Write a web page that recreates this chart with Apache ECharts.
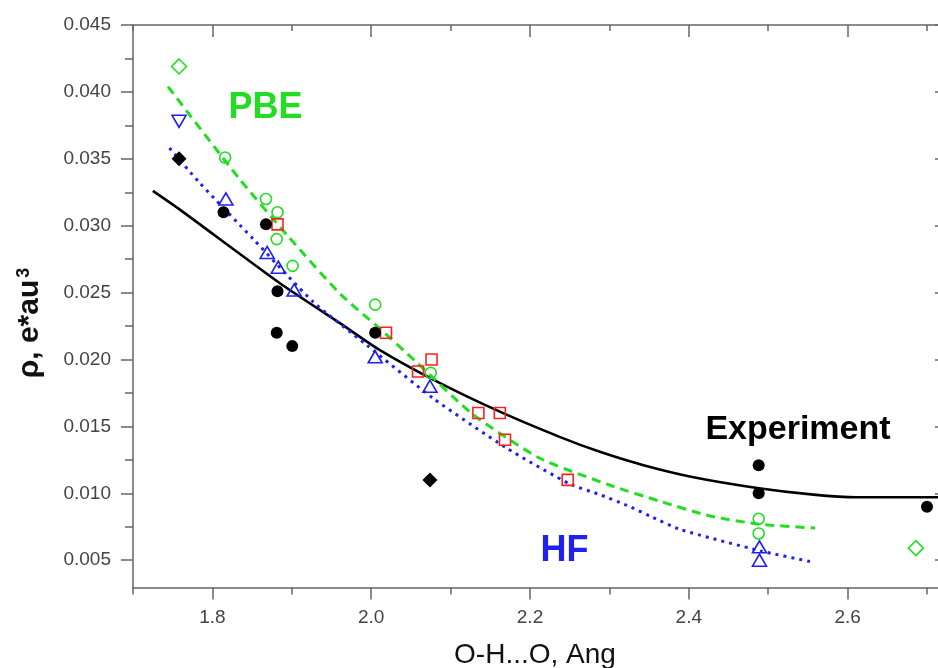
<!DOCTYPE html>
<html>
<head>
<meta charset="utf-8">
<script src="https://cdn.jsdelivr.net/npm/echarts@6/dist/echarts.min.js"></script>
<style>
html,body{margin:0;padding:0;background:#fff;}
#chart{width:938px;height:668px;}
</style>
</head>
<body>
<div id="chart"></div>
<script>
// ---- axis ticks ----
const xMajorTicks = [1.8, 2.0, 2.2, 2.4, 2.6];
const xMinorTicks = [1.7, 1.9, 2.1, 2.3, 2.5, 2.7];
const yMajorTicks = [0.005, 0.010, 0.015, 0.020, 0.025, 0.030, 0.035, 0.040, 0.045];
const yMinorTicks = [0.0075, 0.0125, 0.0175, 0.0225, 0.0275, 0.0325, 0.0375, 0.0425];

// ---- experiment (black) ----
const expCircles = [[1.814,0.0310],[1.8675,0.0301],[1.882,0.0251],[1.881,0.0220],[1.9006,0.0210],[2.005,0.0220],[2.488,0.0121],[2.488,0.0100],[2.700,0.0090]];
const expDiamonds = [[1.758,0.0350],[2.074,0.0110]];
const expFit = [[1.725,0.0326],[1.759,0.0312],[1.885,0.0257],[1.961,0.0227],[2.011,0.0207],[2.078,0.0185],[2.162,0.0161],[2.238,0.0142],[2.288,0.0131],[2.343,0.0121],[2.406,0.0112],[2.486,0.0104],[2.557,0.0099],[2.611,0.0097],[2.714,0.0097]];

// ---- red squares ----
const redSquares = [[1.882,0.0301],[2.0186,0.0220],[2.059,0.0191],[2.076,0.0200],[2.135,0.0160],[2.162,0.0160],[2.1685,0.0140],[2.2475,0.0110]];

// ---- PBE (green) ----
const pbeCircles = [[1.816,0.0351],[1.8675,0.0320],[1.882,0.0310],[1.881,0.0290],[1.901,0.0270],[2.005,0.0241],[2.075,0.0190],[2.488,0.0081],[2.488,0.0070]];
const pbeDiamonds = [[1.758,0.0419],[2.686,0.0059]];
const pbeFit = [[1.744,0.0404],[1.834,0.0335],[1.894,0.0293],[1.961,0.0249],[2.011,0.0223],[2.057,0.0198],[2.128,0.0159],[2.213,0.0126],[2.301,0.0106],[2.364,0.0094],[2.427,0.0083],[2.488,0.0077],[2.559,0.0074]];

// ---- HF (blue) ----
const hfTriangles = [[1.817,0.0320],[1.869,0.0280],[1.883,0.0269],[1.903,0.0252],[2.005,0.0202],[2.074,0.0180],[2.489,0.0060],[2.489,0.0050]];
const hfInverted = [[1.758,0.0378]];
const hfFit = [[1.746,0.0358],[1.784,0.0332],[1.8515,0.0290],[1.927,0.0243],[1.994,0.0211],[2.078,0.0171],[2.170,0.0134],[2.250,0.0107],[2.288,0.0099],[2.322,0.0091],[2.351,0.0083],[2.389,0.0073],[2.490,0.0057],[2.553,0.0049]];

const FONT = 'Liberation Sans, Arial, sans-serif';
const AXIS_COLOR = '#666';
const GREEN = '#22dd22';
const BLUE = '#2020f0';
const RED = '#ff2020';

const X_MIN = 1.7, X_MAX = 2.7252, Y_MIN = 0.00296, Y_MAX = 0.045;

function xAxisDef(pos, ticks, len, inside, showLine, showLabel) {
  return {
    type: 'value', position: pos, min: X_MIN, max: X_MAX,
    axisLine: {show: showLine, onZero: false, lineStyle: {color: AXIS_COLOR, width: 1.5}},
    axisTick: {show: true, inside: inside, length: len, customValues: ticks, lineStyle: {color: AXIS_COLOR, width: 1.5}},
    axisLabel: showLabel ? {show: true, customValues: ticks, formatter: v => v.toFixed(1), color: '#444', fontSize: 19, fontFamily: FONT, margin: 21} : {show: false},
    splitLine: {show: false}
  };
}
function yAxisDef(pos, ticks, len, inside, showLine, showLabel) {
  return {
    type: 'value', position: pos, min: Y_MIN, max: Y_MAX,
    axisLine: {show: showLine, onZero: false, lineStyle: {color: AXIS_COLOR, width: 1.5}},
    axisTick: {show: true, inside: inside, length: len, customValues: ticks, lineStyle: {color: AXIS_COLOR, width: 1.5}},
    axisLabel: showLabel ? {show: true, customValues: ticks, formatter: v => v.toFixed(3), color: '#444', fontSize: 19, fontFamily: FONT, margin: 22} : {show: false},
    splitLine: {show: false}
  };
}

function hollow(name, data, symbol, size, color, rotate) {
  return {
    name: name, type: 'scatter', data: data, symbol: symbol, symbolSize: size,
    symbolRotate: rotate || 0, z: 5,
    itemStyle: {color: 'rgba(255,255,255,0)', borderColor: color, borderWidth: 1.6, opacity: 1}
  };
}

const chart = echarts.init(document.getElementById('chart'), null, {renderer: 'canvas'});
chart.setOption({
  backgroundColor: '#fff',
  animation: false,
  grid: {left: 133, top: 25, right: -9, bottom: 80.5, containLabel: false, outerBoundsMode: 'none'},
  xAxis: [
    xAxisDef('bottom', xMajorTicks, 12, false, true, true),
    xAxisDef('bottom', xMinorTicks, 7, false, false, false),
    xAxisDef('top', xMajorTicks, 12, true, true, false),
    xAxisDef('top', xMinorTicks, 6, true, false, false)
  ],
  yAxis: [
    yAxisDef('left', yMajorTicks, 12, false, true, true),
    yAxisDef('left', yMinorTicks, 8, false, false, false),
    yAxisDef('right', yMajorTicks, 12, true, true, false),
    yAxisDef('right', yMinorTicks, 6, true, false, false)
  ],
  series: [
    {name: 'Experiment fit', type: 'line', data: expFit, showSymbol: false, symbol: 'none', smooth: 0.2, z: 2,
     lineStyle: {color: '#000', width: 2.6}},
    {name: 'PBE fit', type: 'line', data: pbeFit, showSymbol: false, symbol: 'none', smooth: 0.2, z: 2,
     lineStyle: {color: GREEN, width: 3, type: [9, 6]}},
    {name: 'HF fit', type: 'line', data: hfFit, showSymbol: false, symbol: 'none', smooth: 0.2, z: 2,
     lineStyle: {color: BLUE, width: 3, type: [3, 5]}},
    hollow('PBE circles', pbeCircles, 'circle', 11, GREEN),
    hollow('PBE diamonds', pbeDiamonds, 'diamond', [15, 15], GREEN),
    hollow('HF triangles', hfTriangles, 'triangle', [14, 12], BLUE),
    hollow('HF inverted', hfInverted, 'triangle', [14, 12], BLUE, 180),
    hollow('Red squares', redSquares, 'rect', 11, RED),
    {name: 'Experiment circles', type: 'scatter', data: expCircles, symbol: 'circle', symbolSize: 12, z: 6,
     itemStyle: {color: '#000', opacity: 1}},
    {name: 'Experiment diamonds', type: 'scatter', data: expDiamonds, symbol: 'diamond', symbolSize: [15, 15], z: 6,
     itemStyle: {color: '#000', opacity: 1}}
  ],
  graphic: [
    {type: 'text', x: 265.5, y: 108.5, z: 10, style: {text: 'PBE', fill: GREEN, font: 'bold 36px ' + FONT, textAlign: 'center', textVerticalAlign: 'middle'}},
    {type: 'text', x: 564.5, y: 551.5, z: 10, style: {text: 'HF', fill: BLUE, font: 'bold 36px ' + FONT, textAlign: 'center', textVerticalAlign: 'middle'}},
    {type: 'text', x: 798, y: 430, z: 10, style: {text: 'Experiment', fill: '#000', font: 'bold 34px ' + FONT, textAlign: 'center', textVerticalAlign: 'middle'}},
    {type: 'text', x: 535, y: 655, z: 10, style: {text: 'O-H...O, Ang', fill: '#111', font: '28px ' + FONT, textAlign: 'center', textVerticalAlign: 'middle'}},
    {type: 'text', x: 30, y: 323, rotation: Math.PI / 2, z: 10,
     style: {text: '{a|ρ, e*au}{s|3}', textAlign: 'center', textVerticalAlign: 'middle',
       rich: {
         a: {fontSize: 30, fontWeight: 'bold', fontFamily: FONT, fill: '#111', color: '#111'},
         s: {fontSize: 18, fontWeight: 'bold', fontFamily: FONT, fill: '#111', color: '#111', verticalAlign: 'top', padding: [0, 0, 0, 2]}
       }}}
  ]
});
</script>
</body>
</html>
